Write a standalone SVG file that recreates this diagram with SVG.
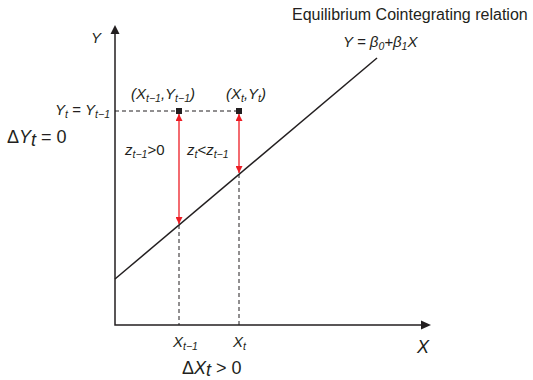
<svg xmlns="http://www.w3.org/2000/svg" width="533" height="380" viewBox="0 0 533 380">
<defs>
<style>
text{font-family:"Liberation Sans",Arial,sans-serif;fill:#231f20}
.i{font-style:italic}
.s{font-size:15px}
.b{font-size:18px}
.sub{font-size:10.5px}
.ax{stroke:#231f20;stroke-width:1.5;fill:none}
.dash{stroke:#231f20;stroke-width:1;stroke-dasharray:4,3;fill:none}
.red{stroke:#ed1c24;stroke-width:1.3;fill:none;marker-start:url(#ra);marker-end:url(#ra)}
</style>
<marker id="ra" viewBox="0 0 10 10" refX="10" refY="5" markerWidth="7" markerHeight="7" markerUnits="userSpaceOnUse" orient="auto-start-reverse">
<path d="M0,0 L10,5 L0,10 Z" fill="#ed1c24"/>
</marker>
</defs>
<rect width="533" height="380" fill="#fff"/>
<g id="axes">
<path class="ax" d="M115,33 V325 H422"/>
<path d="M110.5,34 L115,25 L119.5,34 Z" fill="#231f20"/>
<path d="M421,320.5 L431,325 L421,329.5 Z" fill="#231f20"/>
</g>
<g id="connectors">
<path class="dash" d="M115,111 H239"/>
<path class="dash" d="M179,225 V325"/>
<path class="dash" d="M239,174 V325"/>
<path class="red" d="M179,114 V224"/>
<path class="red" d="M239,114 V173"/>
</g>
<g id="equilibrium-line">
<path d="M115,279 L377,58" stroke="#231f20" stroke-width="1.5" fill="none"/>
</g>
<g id="point-prev"><rect x="176" y="108" width="6" height="6" fill="#231f20"/></g>
<g id="point-curr"><rect x="236" y="108" width="6" height="6" fill="#231f20"/></g>
<g id="labels">
<text class="i s" x="91" y="43">Y</text>
<text class="s" x="110" y="115" text-anchor="end"><tspan class="i">Y</tspan><tspan class="i sub" dy="3">t</tspan><tspan dy="-3"> = </tspan><tspan class="i">Y</tspan><tspan class="i sub" dy="3">t−1</tspan></text>
<text class="b" x="7" y="143">Δ<tspan class="i">Y</tspan><tspan class="i" dy="3">t</tspan><tspan dy="-3"> = 0</tspan></text>
<text class="s i" x="131" y="99">(X<tspan class="sub" dy="3">t−1</tspan><tspan dy="-3">,Y</tspan><tspan class="sub" dy="3">t−1</tspan><tspan dy="-3">)</tspan></text>
<text class="s i" x="226" y="99">(X<tspan class="sub" dy="3">t</tspan><tspan dy="-3">,Y</tspan><tspan class="sub" dy="3">t</tspan><tspan dy="-3">)</tspan></text>
<text class="s" x="125" y="155"><tspan class="i">z</tspan><tspan class="i sub" dy="3">t−1</tspan><tspan dy="-3">&gt;0</tspan></text>
<text class="s" x="187" y="155"><tspan class="i">z</tspan><tspan class="i sub" dy="3">t</tspan><tspan dy="-3">&lt;</tspan><tspan class="i">z</tspan><tspan class="i sub" dy="3">t−1</tspan></text>
<text x="292" y="20" font-size="16">Equilibrium Cointegrating relation</text>
<text class="s i" x="343" y="47">Y = β<tspan class="sub" dy="3">0</tspan><tspan dy="-3">+β</tspan><tspan class="sub" dy="3">1</tspan><tspan dy="-3">X</tspan></text>
<text class="s i" x="173" y="347">X<tspan class="sub" dy="3">t−1</tspan></text>
<text class="s i" x="233" y="347">X<tspan class="sub" dy="3">t</tspan></text>
<text class="b i" x="417" y="353">X</text>
<text class="b" x="182" y="374">Δ<tspan class="i">X</tspan><tspan class="i" dy="2">t</tspan><tspan dy="-2"> &gt; 0</tspan></text>
</g>
</svg>
